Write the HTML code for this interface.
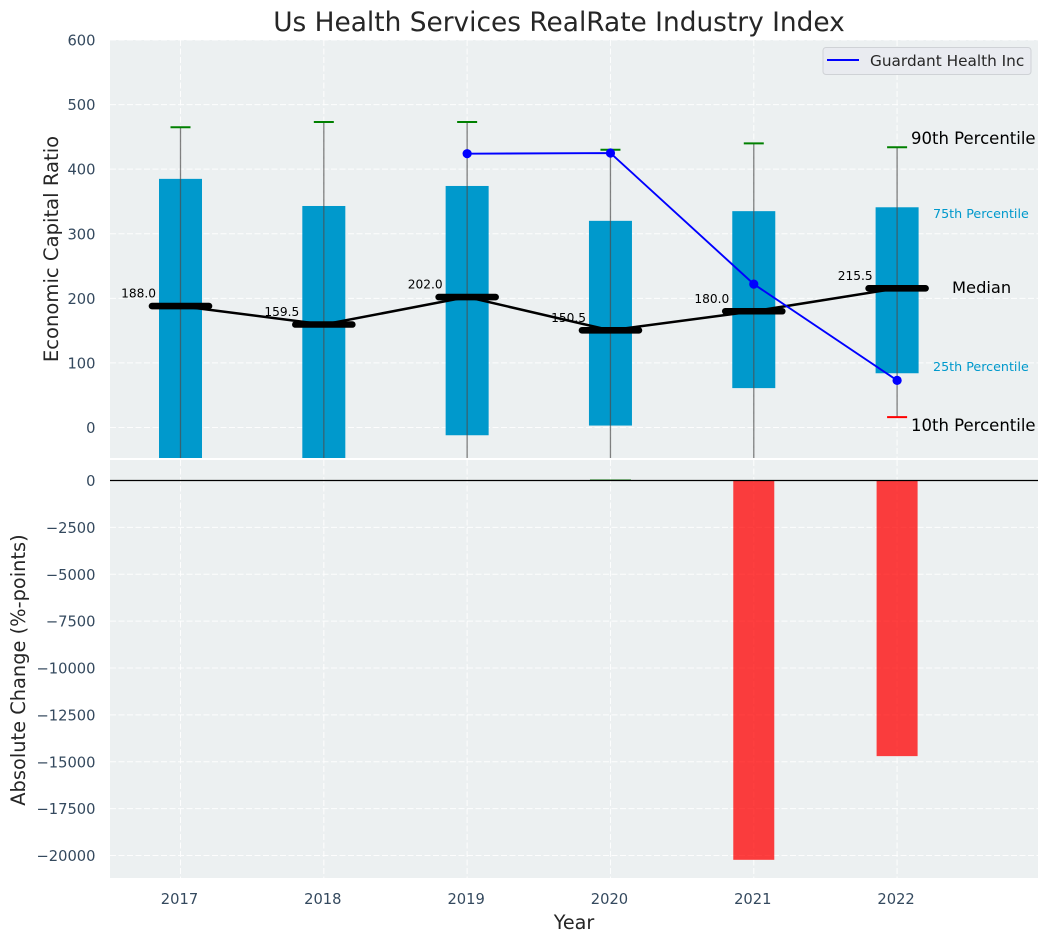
<!DOCTYPE html>
<html lang="en">
<head>
<meta charset="utf-8">
<title>Us Health Services RealRate Industry Index</title>
<style>
html,body{margin:0;padding:0;background:#fff;width:1048px;height:942px;overflow:hidden}
svg{display:block;font-family:"DejaVu Sans","Liberation Sans",sans-serif}
</style>
</head>
<body>
<svg id="chart" xmlns="http://www.w3.org/2000/svg" width="1048" height="942" viewBox="0 0 1048 942">
  <defs>
    <clipPath id="topClip"><rect x="110" y="40" width="928" height="418"/></clipPath>
    <clipPath id="botClip"><rect x="110" y="460" width="928" height="418"/></clipPath>
  </defs>
  <rect x="110" y="40" width="928" height="418" fill="#ecf0f1"/>
  <rect x="110" y="460" width="928" height="418" fill="#ecf0f1"/>
  <g id="topGrid"></g>
  <g id="botGrid"></g>
  <g id="topMarks" clip-path="url(#topClip)"></g>
  <g id="botMarks" clip-path="url(#botClip)"></g>
  <g id="ticks" font-size="14.7" fill="#34495e"></g>
  <text x="559" y="31" text-anchor="middle" font-size="26.4" fill="#262626">Us Health Services RealRate Industry Index</text>
  <text transform="translate(58,249) rotate(-90)" text-anchor="middle" font-size="19.6" fill="#262626">Economic Capital Ratio</text>
  <text transform="translate(25,670) rotate(-90)" text-anchor="middle" font-size="19.4" fill="#262626">Absolute Change (%-points)</text>
  <text x="574" y="929" text-anchor="middle" font-size="19.2" fill="#262626">Year</text>
  <text x="911" y="144" font-size="16.5" fill="#000">90th Percentile</text>
  <text x="933" y="218" font-size="12.7" fill="#0099cc">75th Percentile</text>
  <text x="952" y="293" font-size="16.3" fill="#000">Median</text>
  <text x="933" y="371" font-size="12.7" fill="#0099cc">25th Percentile</text>
  <text x="911" y="431" font-size="16.5" fill="#000">10th Percentile</text>
  <g>
    <rect x="823" y="47.500" width="208" height="27" rx="3" fill="#e9ebf0" stroke="#cfd2d6" stroke-width="1"/>
    <line x1="827" y1="60" x2="859" y2="60" stroke="#0000ff" stroke-width="2"/>
    <text x="870" y="66" font-size="15.3" fill="#262626">Guardant Health Inc</text>
  </g>
</svg>
<script>
const years = [2017, 2018, 2019, 2020, 2021, 2022];
const p90 = [465, 473, 473, 430, 440, 434];
const p75 = [385, 343, 374, 320, 335, 341];
const medians = [188.0, 159.5, 202.0, 150.5, 180.0, 215.5];
const p25 = [-90, -85, -12, 3, 61, 84];
const p10 = [-180, -170, -130, -120, -75, 16];
const guardantYears = [2019, 2020, 2021, 2022];
const guardantValues = [424, 425, 222, 73];
const changeValues = [0, 0, 0, 60, -20230, -14700];
const topTicks = [0, 100, 200, 300, 400, 500, 600];
const bottomTicks = [0, -2500, -5000, -7500, -10000, -12500, -15000, -17500, -20000];

const NS = 'http://www.w3.org/2000/svg';
const xScale = y => 180.5 + (y - 2017) * 143.32;
const yTop = v => 427.5 - v * 0.6458;
const yBot = v => 480.5 + v * (-375 / 20000);
const fmt = v => (v < 0 ? '\u2212' + (-v) : '' + v);

function mk(parent, tag, attrs, txt) {
  const el = document.createElementNS(NS, tag);
  for (const k in attrs) el.setAttribute(k, attrs[k]);
  if (txt !== undefined) el.textContent = txt;
  parent.appendChild(el);
  return el;
}

const topGrid = document.getElementById('topGrid');
const botGrid = document.getElementById('botGrid');
const topMarks = document.getElementById('topMarks');
const botMarks = document.getElementById('botMarks');
const ticks = document.getElementById('ticks');
const gridStyle = { stroke: '#ffffff', 'stroke-width': 1, 'stroke-dasharray': '6 2.5', opacity: 0.9 };

topTicks.forEach(v => {
  const g = mk(topGrid, 'line', Object.assign({ x1: 110, x2: 1038, y1: yTop(v), y2: yTop(v) }, gridStyle));
  
  
  const t = mk(ticks, 'text', { x: 95.5, y: yTop(v) + 5.5, 'text-anchor': 'end' }, fmt(v));
  
  
});

bottomTicks.forEach(v => {
  const g = mk(botGrid, 'line', Object.assign({ x1: 110, x2: 1038, y1: yBot(v), y2: yBot(v) }, gridStyle));
  
  
  const t = mk(ticks, 'text', { x: 95.5, y: yBot(v) + 5.5, 'text-anchor': 'end' }, fmt(v));
  
  
});

years.forEach(y => {
  const a = mk(topGrid, 'line', Object.assign({ x1: xScale(y), x2: xScale(y), y1: 40, y2: 458 }, gridStyle));
  
  
  const b = mk(botGrid, 'line', Object.assign({ x1: xScale(y), x2: xScale(y), y1: 460, y2: 878 }, gridStyle));
  
  
  const t = mk(ticks, 'text', { x: xScale(y) - 1, y: 904, 'text-anchor': 'middle' }, String(y));
  
  
});

years.forEach((y, i) => {
  const x = xScale(y);
  const box = mk(topMarks, 'rect', { x: x - 21.5, width: 43, y: yTop(p75[i]), height: yTop(p25[i]) - yTop(p75[i]), fill: '#0099cc' });
  
  
  const whisker = mk(topMarks, 'line', { x1: x, x2: x, y1: yTop(p90[i]), y2: yTop(p10[i]), stroke: '#4d4d4d', 'stroke-width': 1.3, opacity: 0.7 });
  
  
  const hi = mk(topMarks, 'line', { x1: x - 10, x2: x + 10, y1: yTop(p90[i]), y2: yTop(p90[i]), stroke: '#008000', 'stroke-width': 2 });
  
  
  const lo = mk(topMarks, 'line', { x1: x - 10, x2: x + 10, y1: yTop(p10[i]), y2: yTop(p10[i]), stroke: '#ff0000', 'stroke-width': 2 });
  
  
});

const medianLine = mk(topMarks, 'polyline', {
  points: years.map((y, i) => xScale(y) + ',' + yTop(medians[i])).join(' '),
  fill: 'none', stroke: '#000', 'stroke-width': 2.5
});



years.forEach((y, i) => {
  const x = xScale(y);
  const m = mk(topMarks, 'line', { x1: x - 28.5, x2: x + 28.5, y1: yTop(medians[i]), y2: yTop(medians[i]), stroke: '#000', 'stroke-width': 6.6, 'stroke-linecap': 'round' });
  
  
  const t = mk(topMarks, 'text', { x: x - 24.5, y: yTop(medians[i]) - 8.5, 'text-anchor': 'end', 'font-size': 12.2, fill: '#000' }, medians[i].toFixed(1));
  
  
});

const gLine = mk(topMarks, 'polyline', {
  points: guardantYears.map((y, i) => xScale(y) + ',' + yTop(guardantValues[i])).join(' '),
  fill: 'none', stroke: '#0000ff', 'stroke-width': 1.9
});



guardantYears.forEach((y, i) => {
  const c = mk(topMarks, 'circle', { cx: xScale(y), cy: yTop(guardantValues[i]), r: 4.6, fill: '#0000ff' });
  
  
});

years.forEach((y, i) => {
  const v = changeValues[i];
  if (v === 0) return;
  const top = Math.min(yBot(0), yBot(v));
  const h = Math.abs(yBot(v) - yBot(0));
  const b = mk(botMarks, 'rect', { x: xScale(y) - 20.5, width: 41, y: top, height: h, fill: v < 0 ? '#ff0000' : '#008000', opacity: 0.75 });
  
  
});

const zero = mk(botMarks, 'line', { x1: 110, x2: 1038, y1: yBot(0), y2: yBot(0), stroke: '#000', 'stroke-width': 1.2 });


</script>
</body>
</html>
